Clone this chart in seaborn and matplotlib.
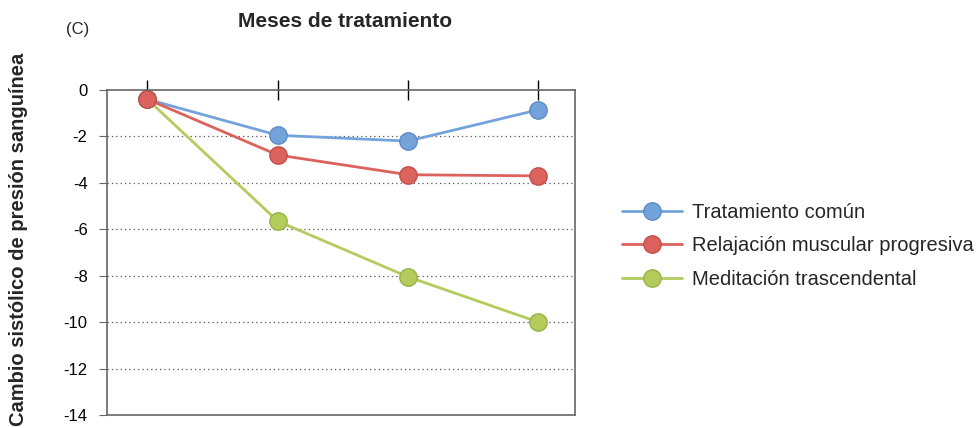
import pandas as pd
import seaborn as sns
import matplotlib.pyplot as plt
from matplotlib.lines import Line2D

meses = [0, 1, 2, 3]
tratamiento_comun = [-0.4, -1.95, -2.2, -0.85]
relajacion = [-0.4, -2.8, -3.65, -3.7]
meditacion = [-0.4, -5.65, -8.05, -10.0]

series = {
    'Tratamiento común': (tratamiento_comun, '#74a3dc', '#5b8bc8'),
    'Relajación muscular progresiva': (relajacion, '#dc625e', '#c44f4b'),
    'Meditación trascendental': (meditacion, '#b3cc5c', '#97b244'),
}

rows = []
for nombre, (vals, _, _) in series.items():
    for m, v in zip(meses, vals):
        rows.append({'mes': m, 'valor': v, 'serie': nombre})
df = pd.DataFrame(rows)

sns.set_style('white')
plt.rcParams['font.family'] = ['Liberation Sans', 'DejaVu Sans']

fig = plt.figure(figsize=(9.77, 4.28), dpi=100)
ax = fig.add_axes([0.1095, 0.0304, 0.479, 0.7593])

# draw green first so red ends up on top at the shared first point
for nombre in ['Meditación trascendental', 'Tratamiento común', 'Relajación muscular progresiva']:
    vals, col, edge = series[nombre]
    sns.lineplot(data=df[df['serie'] == nombre], x='mes', y='valor', color=col,
                 marker='o', markersize=12.5, markerfacecolor=col, markeredgecolor=edge,
                 markeredgewidth=1.0, linewidth=2, ax=ax, legend=False)

ax.set_xlim(-0.31, 3.28)
ax.set_ylim(-14, 0)
ax.set_yticks(range(-14, 1, 2))
ax.set_yticklabels([str(t) for t in range(-14, 1, 2)], fontsize=12)
ax.set_xticks(meses)
ax.xaxis.tick_top()
ax.tick_params(axis='x', direction='inout', length=14, width=1, colors='black', labeltop=False)
ax.tick_params(axis='y', direction='out', length=6, width=0.8, colors='#666666', labelcolor='black',
               left=True, pad=8)
ax.set_xlabel('')
ax.set_ylabel('')

for y in range(-12, 0, 2):
    ax.axhline(y, color='#555555', linestyle=(0, (1, 2.5)), linewidth=0.9, zorder=0)

for s in ax.spines.values():
    s.set_color('#666666')
    s.set_linewidth(1.2)

fig.text(0.353, 0.95, 'Meses de tratamiento', fontsize=15, fontweight='bold', ha='center', va='center')
fig.text(0.079, 0.93, '(C)', fontsize=12, ha='center', va='center')
fig.text(0.019, 0.44, 'Cambio sistólico de presión sanguínea', fontsize=14.5, fontweight='bold',
         rotation=90, ha='center', va='center')

handles = []
for nombre, (vals, col, edge) in series.items():
    handles.append(Line2D([0], [0], color=col, linewidth=2, marker='o', markersize=12.5,
                          markerfacecolor=col, markeredgecolor=edge))
fig.legend(handles, list(series.keys()), loc='center left', bbox_to_anchor=(0.618, 0.426),
           frameon=False, fontsize=14.5, handlelength=3.0, labelspacing=0.72, handletextpad=0.5)

fig.savefig('out.png', dpi=100)
